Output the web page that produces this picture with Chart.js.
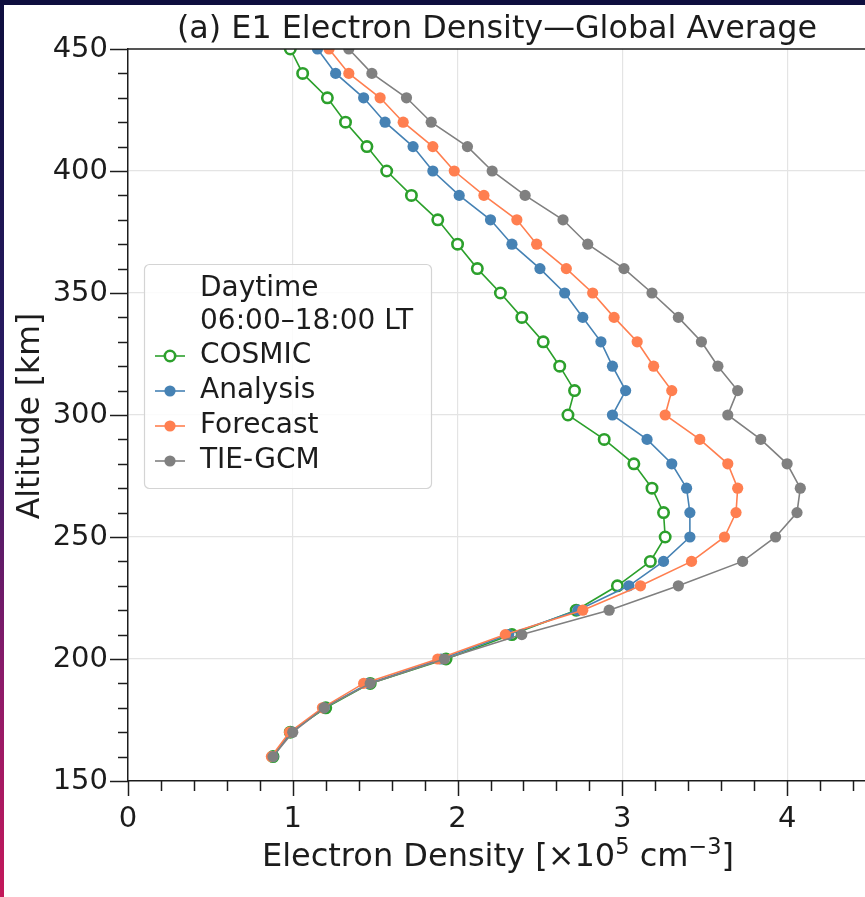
<!DOCTYPE html>
<html>
<head>
<meta charset="utf-8">
<script src="https://cdn.jsdelivr.net/npm/chart.js@4.4.0/dist/chart.umd.min.js"></script>
<style>
html, body { margin: 0; padding: 0; background: #fff; overflow: hidden; }
#wrap { position: relative; width: 865px; height: 897px; overflow: hidden; }
#myChart { position: absolute; left: 0; top: 0; }
#topbar { position: absolute; left: 0; top: 0; width: 865px; height: 5px; background: #0e0e3e; }
#leftbar { position: absolute; left: 0; top: 0; width: 4px; height: 897px;
  background: linear-gradient(#0e0e3e, #2c1c66 45%, #8a1a6a 75%, #c4185a); }
</style>
</head>
<body>
<div id="wrap">
  <!-- axes run on past the right edge, so the canvas is a little wider than the page -->
  <canvas id="myChart" width="874" height="897"></canvas>
  <div id="topbar"></div>
  <div id="leftbar"></div>
</div>
<script>
// altitude levels [km]
var altitudes = [160, 170, 180, 190, 200, 210, 220, 230, 240, 250,
                 260, 270, 280, 290, 300, 310, 320, 330, 340, 350,
                 360, 370, 380, 390, 400, 410, 420, 430, 440, 450];

// electron density [x10^5 cm^-3] at each altitude
var cosmic   = [0.88, 0.985, 1.20, 1.47, 1.93, 2.33, 2.72, 2.97, 3.17, 3.26,
                3.25, 3.18, 3.07, 2.89, 2.67, 2.71, 2.62, 2.52, 2.39, 2.26,
                2.12, 2.00, 1.88, 1.72, 1.57, 1.45, 1.32, 1.21, 1.06, 0.985];
var analysis = [0.88, 0.99, 1.19, 1.46, 1.90, 2.31, 2.73, 3.04, 3.25, 3.41,
                3.41, 3.39, 3.30, 3.15, 2.94, 3.02, 2.94, 2.87, 2.76, 2.65,
                2.50, 2.33, 2.20, 2.01, 1.85, 1.73, 1.56, 1.43, 1.26, 1.15];
var forecast = [0.87, 0.98, 1.18, 1.43, 1.88, 2.29, 2.76, 3.11, 3.42, 3.62,
                3.69, 3.70, 3.64, 3.47, 3.26, 3.30, 3.19, 3.09, 2.95, 2.82,
                2.66, 2.48, 2.36, 2.16, 1.98, 1.85, 1.67, 1.53, 1.34, 1.22];
var tiegcm   = [0.88, 1.00, 1.19, 1.47, 1.92, 2.39, 2.92, 3.34, 3.73, 3.93,
                4.06, 4.08, 4.00, 3.84, 3.64, 3.70, 3.58, 3.48, 3.34, 3.18,
                3.01, 2.79, 2.64, 2.41, 2.21, 2.06, 1.84, 1.69, 1.48, 1.34];

var seriesNames = ["COSMIC", "Analysis", "Forecast", "TIE-GCM"];
var legendTitle = ["Daytime", "06:00\u201318:00 LT"];
var xTickLabels = ["0", "1", "2", "3", "4"];
var yTickLabels = ["150", "200", "250", "300", "350", "400", "450"];

var FONT = "'DejaVu Sans', 'Noto Sans', sans-serif";
var INK = "#1c1c1c";

function toPoints(values) {
  return altitudes.map(function(a, i) { return { x: values[i], y: a }; });
}

function isMajorX(v) { return Math.abs(v - Math.round(v)) < 1e-6; }
function isMajorY(v) { return Math.abs(v / 50 - Math.round(v / 50)) < 1e-6; }

function makeSet(name, values, color, open, order) {
  return {
    label: name,
    data: toPoints(values),
    showLine: true,
    borderColor: color,
    borderWidth: 1.6,
    pointRadius: open ? 5.2 : 5.6,
    pointBackgroundColor: open ? "#ffffff" : color,
    pointBorderColor: color,
    pointBorderWidth: open ? 2.6 : 0,
    order: order
  };
}

var datasets = [
  makeSet(seriesNames[0], cosmic, "#2ca02c", true, 3),
  makeSet(seriesNames[1], analysis, "#4682b4", false, 2),
  makeSet(seriesNames[2], forecast, "#ff7f50", false, 1),
  makeSet(seriesNames[3], tiegcm, "#808080", false, 0)
];

// outward tick marks, top spine, title, axis titles and the legend box
var decorations = {
  id: "decorations",
  afterDraw: function(chart) {
    var ctx = chart.ctx;
    var area = chart.chartArea;
    var xs = chart.scales.x, ys = chart.scales.y;
    ctx.save();
    ctx.strokeStyle = INK;
    ctx.lineWidth = 1.5;

    // top spine
    ctx.beginPath();
    ctx.moveTo(area.left, area.top);
    ctx.lineTo(chart.width, area.top);
    ctx.stroke();

    xs.ticks.forEach(function(t) {
      var px = Math.round(xs.getPixelForValue(t.value)) + 0.5;
      var len = isMajorX(t.value) ? 15 : 10;
      ctx.beginPath();
      ctx.moveTo(px, area.bottom);
      ctx.lineTo(px, area.bottom + len);
      ctx.stroke();
    });
    ys.ticks.forEach(function(t) {
      var py = Math.round(ys.getPixelForValue(t.value)) + 0.5;
      var len = isMajorY(t.value) ? 18 : 10;
      ctx.beginPath();
      ctx.moveTo(area.left, py);
      ctx.lineTo(area.left - len, py);
      ctx.stroke();
    });

    ctx.fillStyle = INK;
    ctx.textBaseline = "middle";

    // title
    ctx.textAlign = "center";
    ctx.font = "31.8px " + FONT;
    ctx.fillText("(a) E1 Electron Density\u2014Global Average", 497, 30);

    // x axis title with superscripts
    var parts = [
      { t: "Electron Density [\u00d710", sup: false },
      { t: "5", sup: true },
      { t: " cm", sup: false },
      { t: "\u22123", sup: true },
      { t: "]", sup: false }
    ];
    var big = "32px " + FONT, small = "22.5px " + FONT;
    var total = 0;
    parts.forEach(function(p) { ctx.font = p.sup ? small : big; p.w = ctx.measureText(p.t).width; total += p.w; });
    var x = 498 - total / 2;
    ctx.textAlign = "left";
    parts.forEach(function(p) {
      ctx.font = p.sup ? small : big;
      ctx.fillText(p.t, x, p.sup ? 848 : 858);
      x += p.w;
    });

    // y axis title
    ctx.save();
    ctx.translate(31, 416);
    ctx.rotate(-Math.PI / 2);
    ctx.textAlign = "center";
    ctx.font = "31.5px " + FONT;
    ctx.fillText("Altitude [km]", 0, 0);
    ctx.restore();

    // legend
    var bx = 144.5, by = 264.5, bw = 287, bh = 224;
    ctx.beginPath();
    ctx.roundRect(bx, by, bw, bh, 5);
    ctx.fillStyle = "rgba(255,255,255,0.85)";
    ctx.fill();
    ctx.strokeStyle = "#d4d4d4";
    ctx.lineWidth = 1.2;
    ctx.stroke();

    ctx.fillStyle = INK;
    ctx.font = "28px " + FONT;
    ctx.textAlign = "left";
    ctx.fillText(legendTitle[0], 200, 289);
    ctx.fillText(legendTitle[1], 200, 322);
    var rows = [356, 391, 426, 461];
    chart.data.datasets.forEach(function(ds, i) {
      var ry = rows[i];
      ctx.strokeStyle = ds.borderColor;
      ctx.lineWidth = 1.6;
      ctx.beginPath();
      ctx.moveTo(155, ry);
      ctx.lineTo(185, ry);
      ctx.stroke();
      ctx.beginPath();
      ctx.arc(170, ry, ds.pointRadius, 0, Math.PI * 2);
      ctx.fillStyle = ds.pointBackgroundColor;
      ctx.fill();
      if (ds.pointBorderWidth) {
        ctx.lineWidth = ds.pointBorderWidth;
        ctx.strokeStyle = ds.pointBorderColor;
        ctx.stroke();
      }
      ctx.fillStyle = INK;
      ctx.fillText(ds.label, 200, ry);
    });

    ctx.restore();
  }
};

var config = {
  type: "scatter",
  data: { datasets: datasets },
  plugins: [decorations],
  options: {
    responsive: false,
    animation: false,
    events: [],
    layout: { padding: { top: 49, right: 0, left: 0, bottom: 0 } },
    plugins: {
      legend: { display: false },
      tooltip: { enabled: false },
      title: { display: false }
    },
    scales: {
      x: {
        type: "linear",
        min: 0,
        max: 4.48,
        afterFit: function(s) { s.height = 116; s.paddingRight = 0; s.paddingLeft = 0; },
        afterBuildTicks: function(s) {
          var t = [];
          for (var i = 0; i <= 22; i++) t.push({ value: i * 0.2 });
          s.ticks = t;
        },
        border: { display: true, color: INK, width: 1.5 },
        grid: {
          drawTicks: false,
          lineWidth: 1.2,
          color: function(c) {
            if (!c.tick || c.tick.value === 0) return "rgba(0,0,0,0)";
            return isMajorX(c.tick.value) ? "#e4e4e4" : "rgba(0,0,0,0)";
          }
        },
        ticks: {
          autoSkip: false,
          maxRotation: 0,
          padding: 21,
          color: INK,
          font: { family: FONT, size: 29 },
          callback: function(v) {
            return isMajorX(v) ? xTickLabels[Math.round(v)] : "";
          }
        }
      },
      y: {
        type: "linear",
        min: 150,
        max: 450,
        afterFit: function(s) { s.width = 128; s.paddingTop = 0; s.paddingBottom = 0; },
        afterBuildTicks: function(s) {
          var t = [];
          for (var v = 150; v <= 450; v += 10) t.push({ value: v });
          s.ticks = t;
        },
        border: { display: true, color: INK, width: 1.5 },
        grid: {
          drawTicks: false,
          lineWidth: 1.2,
          color: function(c) {
            if (!c.tick || c.tick.value === 150 || c.tick.value === 450) return "rgba(0,0,0,0)";
            return isMajorY(c.tick.value) ? "#e4e4e4" : "rgba(0,0,0,0)";
          }
        },
        ticks: {
          autoSkip: false,
          padding: 20,
          color: INK,
          font: { family: FONT, size: 29 },
          callback: function(v) {
            return isMajorY(v) ? yTickLabels[Math.round((v - 150) / 50)] : "";
          }
        }
      }
    }
  }
};

var myChart = new Chart(document.getElementById("myChart").getContext("2d"), config);
</script>
</body>
</html>
